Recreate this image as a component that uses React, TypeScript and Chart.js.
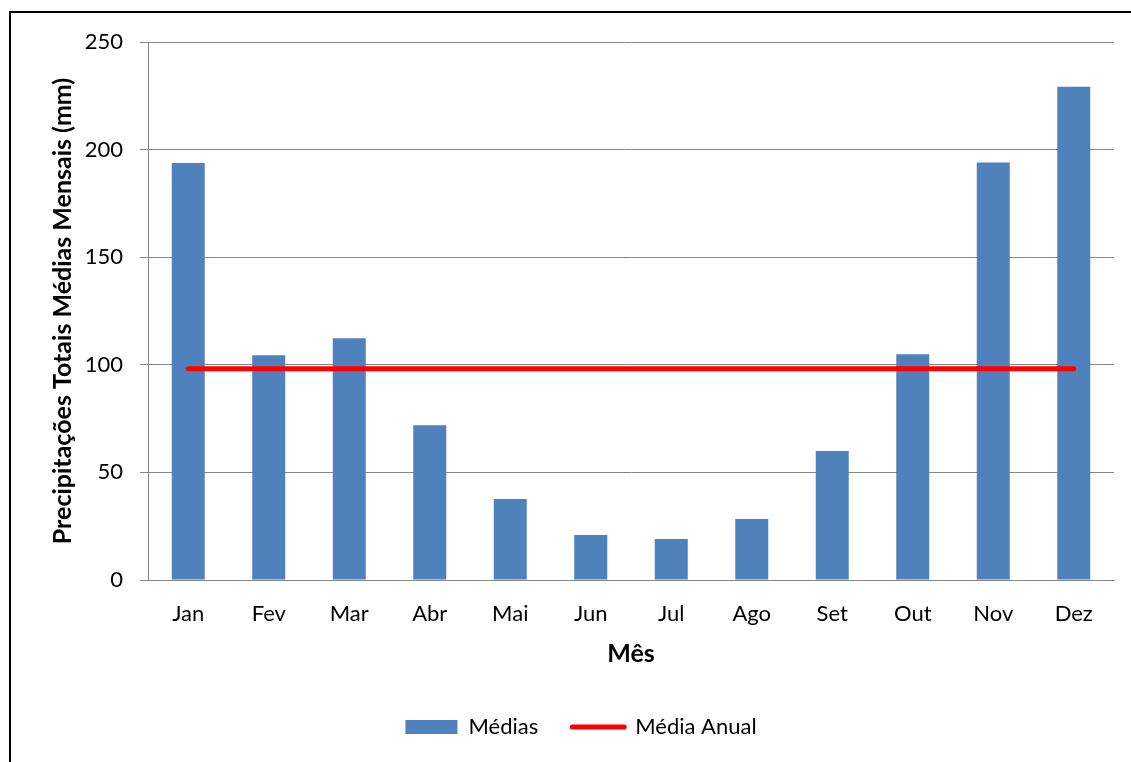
import React, { useEffect, useRef } from "react";
import { Chart, registerables } from "chart.js";

Chart.register(...registerables);

const months = ["Jan", "Fev", "Mar", "Abr", "Mai", "Jun", "Jul", "Ago", "Set", "Out", "Nov", "Dez"];
const mediasMensais = [193.8, 104.4, 112.3, 71.9, 37.6, 20.9, 19.0, 28.3, 59.9, 104.9, 194.0, 229.2];
const mediaAnualValue = 98.2;
const mediaAnual = months.map(() => mediaAnualValue);
const yTicks = [0, 50, 100, 150, 200, 250];

const FONT = "Lato";

export default function App() {
  const ref = useRef<HTMLCanvasElement | null>(null);
  useEffect(() => {
    if (!ref.current) return;
    const chart = new Chart(ref.current, {
      type: "bar",
      data: {
        labels: months,
        datasets: [
          {
            type: "bar",
            label: "Médias",
            data: mediasMensais,
            backgroundColor: "#4F81BD",
            borderWidth: 0,
            barPercentage: 0.41,
            categoryPercentage: 1,
            order: 1,
          },
          {
            type: "line",
            label: "Média Anual",
            data: mediaAnual,
            borderColor: "#FF0000",
            backgroundColor: "#FF0000",
            borderWidth: 5,
            borderCapStyle: "round",
            pointRadius: 0,
            pointStyle: "line",
            order: 0,
          } as any,
        ],
      },
      options: {
        animation: false,
        responsive: false,
        layout: { padding: { left: 48, top: 42, right: 17, bottom: 14 } },
        plugins: {
          tooltip: { enabled: false },
          legend: {
            display: true,
            position: "bottom",
            labels: {
              usePointStyle: true,
              pointStyleWidth: 52,
              boxHeight: 14,
              padding: 34,
              color: "#000",
              font: { family: FONT, size: 22 },
              generateLabels: () => [
                { text: "Médias", fillStyle: "#4F81BD", strokeStyle: "#4F81BD", lineWidth: 0, pointStyle: "rect", datasetIndex: 0, hidden: false },
                { text: "Média Anual", fillStyle: "#FF0000", strokeStyle: "#FF0000", lineWidth: 5, lineCap: "round", pointStyle: "line", datasetIndex: 1, hidden: false },
              ] as any,
            },
          },
        },
        scales: {
          x: {
            grid: { display: false, drawTicks: false },
            border: { display: true, color: "#868686", width: 1 },
            ticks: { color: "#000", font: { family: FONT, size: 22 }, padding: 21 },
            title: {
              display: true,
              text: "Mês",
              color: "#000",
              font: { family: FONT, size: 25, weight: "bold" },
              padding: { top: 0, bottom: 13 },
            },
            afterFit: (s: any) => { s.height = 102; },
          },
          y: {
            min: 0,
            max: 250,
            afterBuildTicks: (s: any) => { s.ticks = yTicks.map((v) => ({ value: v })); },
            grid: { color: "#868686", lineWidth: 1, drawTicks: true, tickLength: 8 },
            border: { display: true, color: "#868686", width: 1 },
            ticks: { color: "#000", font: { family: FONT, size: 22 }, padding: 17 },
            title: {
              display: true,
              text: "Precipitações Totais Médias Mensais (mm)",
              color: "#000",
              font: { family: FONT, size: 25, weight: "bold" },
              padding: { top: 0, bottom: 0 },
            },
            afterFit: (s: any) => { s.width = 100; },
          },
        },
      },
    });
    return () => chart.destroy();
  }, []);

  return (
    <div style={{ position: "absolute", left: 0, top: 0, width: 1131, height: 762, overflow: "hidden", background: "#fff" }}>
      <div style={{ position: "absolute", left: 9, top: 11, width: 1160, height: 800, border: "2px solid #000", boxSizing: "border-box" }} />
      <canvas ref={ref} width={1131} height={762} style={{ position: "absolute", left: 0, top: 0, width: 1131, height: 762 }} />
    </div>
  );
}
